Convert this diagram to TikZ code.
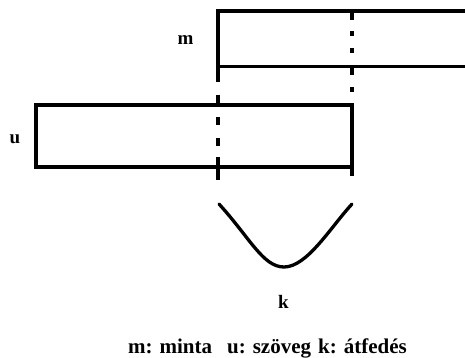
\documentclass[tikz,border=0pt]{standalone}
\usepackage{fontspec}
\setmainfont{Liberation Serif}
\begin{document}
\begin{tikzpicture}[x=1pt,y=-1pt,
  bar/.style={line width=3.3pt,line join=miter,black},
  lbl/.style={font=\bfseries\fontsize{19}{22}\selectfont,inner sep=0pt,anchor=base},
  leglbl/.style={font=\bfseries\fontsize{21}{24}\selectfont,inner sep=0pt,anchor=base}]
\useasboundingbox[fill=white] (0,0) rectangle (465,358);
% m (minta)
\draw[bar] (465,11) -- (218,11) -- (218,82);
\draw[bar] (218,66.5) -- (465,66.5);
% u (szoveg)
\draw[bar] (218,105) -- (36,105) -- (36,167) -- (352,167);
\draw[bar] (352,105) -- (352,176);
\draw[bar] (217,105) -- (353.6,105);
% dashed at 352
\foreach \a/\b in {11/20,31.5/36,48/53,66/75,87/92}
  \draw[bar] (352,\a) -- (352,\b);
% dashed at 218
\foreach \a/\b in {95/105,117/125,138/146,157/180}
  \draw[bar] (218,\a) -- (218,\b);
% overlap curve
\coordinate (c1) at (219,204);
\coordinate (c2) at (284,267);
\coordinate (c3) at (352,204);
\draw[bar,line cap=round] (c1) .. controls (250,238) and (263,267) .. (c2)
  .. controls (307,267) and (330,228) .. (c3);
% labels
\node[lbl] (lm) at (185.5,45) {m};
\node[lbl] (lu) at (15,143) {u};
\node[lbl] (lk) at (283.5,308) {k};
\node[leglbl] (leg) at (267.5,353) {m: minta\hspace{15pt}u: szöveg\hspace{7pt}k: átfedés};
\end{tikzpicture}
\end{document}
